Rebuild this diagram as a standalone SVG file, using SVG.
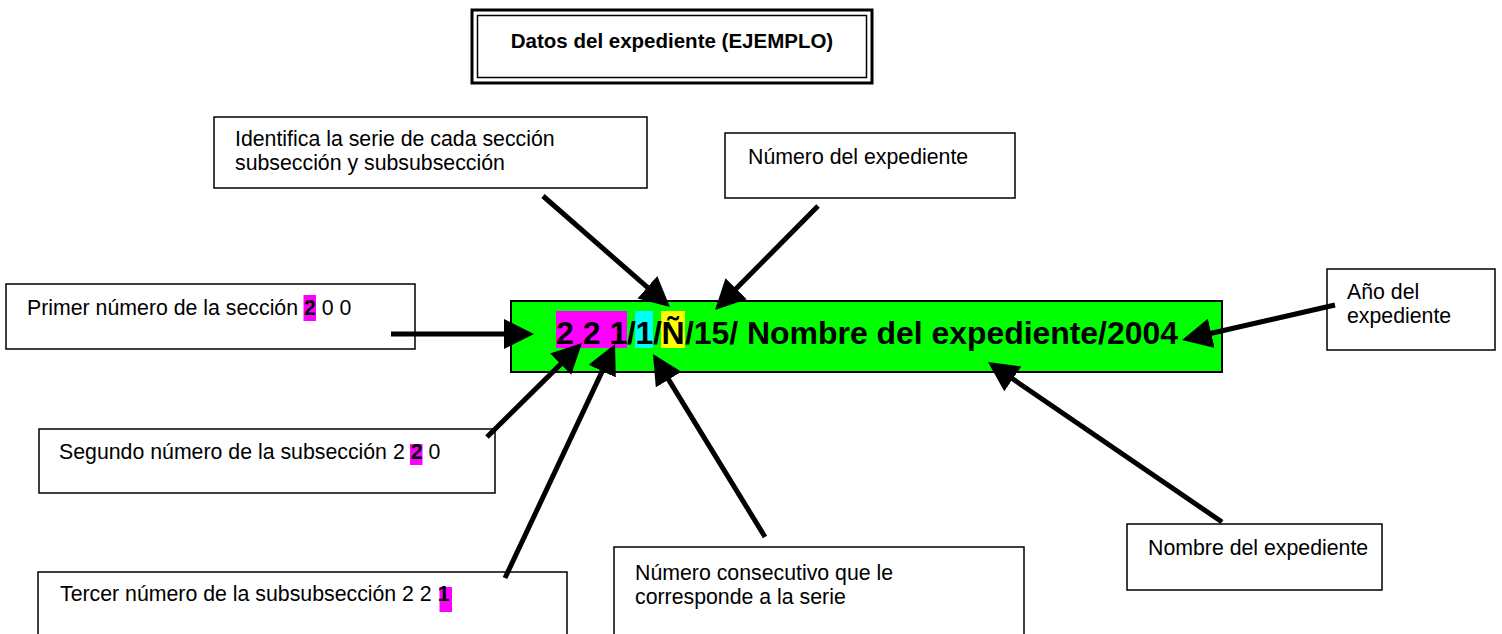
<svg xmlns="http://www.w3.org/2000/svg" width="1502" height="634" viewBox="0 0 1502 634">
<style>
.box{fill:#fff;stroke:#000;stroke-width:1.5}
.lbl{font-family:"Liberation Sans",Arial,sans-serif;font-size:21.3px;fill:#000}
.b{font-weight:bold}
.hl{fill:#ff00ff}
.arr{stroke:#000;stroke-width:5;fill:none;marker-end:url(#ah)}
.big{font-family:"Liberation Sans",Arial,sans-serif;font-size:32px;font-weight:bold;fill:#000}
</style>
<defs>
<marker id="ah" markerUnits="userSpaceOnUse" markerWidth="32" markerHeight="32" refX="10" refY="15" orient="auto">
<path d="M0,0 L30,15 L0,30 z" fill="#000"/>
</marker>
</defs>
<rect width="1502" height="634" fill="#fff"/>

<g id="title">
<rect x="472" y="10" width="400" height="73" fill="#fff" stroke="#000" stroke-width="3"/>
<rect x="477.5" y="15.5" width="389" height="62" fill="none" stroke="#000" stroke-width="1.5"/>
<text x="672" y="48" text-anchor="middle" class="lbl b" style="font-size:20.5px">Datos del expediente (EJEMPLO)</text>
</g>

<g id="code">
<rect x="511" y="301" width="711" height="71" fill="#00ff00" stroke="#000" stroke-width="2"/>
<rect x="556" y="311" width="71" height="37" fill="#ff00ff"/>
<rect x="635" y="311" width="18" height="37" fill="#00ffff"/>
<rect x="661" y="311" width="24" height="37" fill="#ffff00"/>
<text class="big" y="344"><tspan x="556">2 2 1</tspan><tspan x="627">/</tspan><tspan x="635.5">1</tspan><tspan x="653">/</tspan><tspan x="661.5">Ñ</tspan><tspan x="685" textLength="493" lengthAdjust="spacing">/15/ Nombre del expediente/2004</tspan></text>
</g>

<g id="n-primer">
<rect class="box" x="6" y="284" width="409" height="65"/>
<rect class="hl" x="303.5" y="295" width="12.5" height="26"/>
<text class="lbl" x="27" y="315">Primer número de la sección <tspan class="b">2</tspan> 0 0</text>
</g>

<g id="n-segundo">
<rect class="box" x="39" y="429" width="456" height="64"/>
<rect class="hl" x="410" y="444" width="12.5" height="21"/>
<text class="lbl" x="59" y="459">Segundo número de la subsección 2 <tspan class="b">2</tspan> 0</text>
</g>

<g id="n-tercer">
<rect class="box" x="38" y="572" width="529" height="70"/>
<rect class="hl" x="439.5" y="587" width="12.5" height="25"/>
<text class="lbl" x="60" y="601">Tercer número de la subsubsección 2 2 <tspan class="b">1</tspan></text>
</g>

<g id="n-consecutivo">
<rect class="box" x="614" y="547" width="410" height="95"/>
<text class="lbl"><tspan x="635" y="580">Número consecutivo que le</tspan><tspan x="635" y="604">corresponde a la serie</tspan></text>
</g>

<g id="n-nombre">
<rect class="box" x="1127" y="524" width="255" height="66"/>
<text class="lbl" x="1148" y="555">Nombre del expediente</text>
</g>

<g id="n-anio">
<rect class="box" x="1327" y="269" width="168" height="81"/>
<text class="lbl"><tspan x="1347" y="299">Año del</tspan><tspan x="1347" y="323">expediente</tspan></text>
</g>

<g id="n-identifica">
<rect class="box" x="214" y="117" width="433" height="71"/>
<text class="lbl"><tspan x="235" y="146">Identifica la serie de cada sección</tspan><tspan x="235" y="170">subsección y subsubsección</tspan></text>
</g>

<g id="n-numero">
<rect class="box" x="725" y="133" width="290" height="65"/>
<text class="lbl" x="748" y="164">Número del expediente</text>
</g>

<g id="connectors">
<line class="arr" x1="391" y1="334" x2="514" y2="334"/>
<line class="arr" x1="487" y1="437" x2="567.8" y2="357.1"/>
<line class="arr" x1="505" y1="578" x2="606.5" y2="362.1"/>
<line class="arr" x1="765" y1="537" x2="663.4" y2="371.1"/>
<line class="arr" x1="1222" y1="522" x2="1004.5" y2="373.3"/>
<line class="arr" x1="1335" y1="305" x2="1201.5" y2="335.5"/>
<line class="arr" x1="543" y1="196" x2="654.9" y2="293.8"/>
<line class="arr" x1="818" y1="206" x2="729.1" y2="295.8"/>
</g>
</svg>
